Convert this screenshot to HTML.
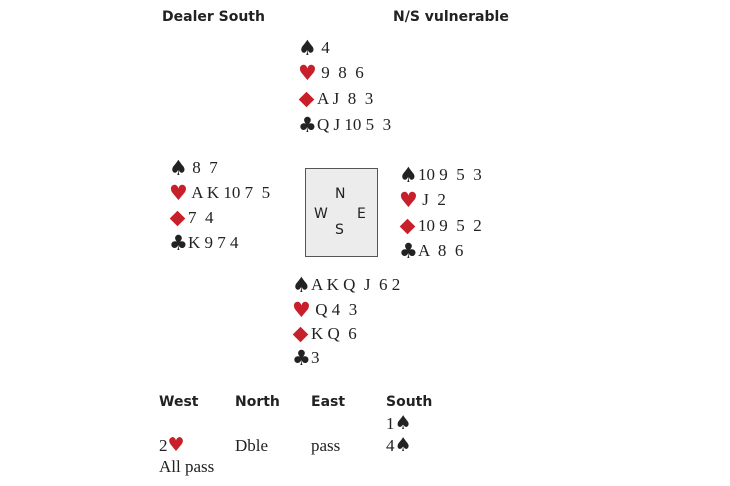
<!DOCTYPE html>
<html><head><style>
body{margin:0;width:730px;height:486px;background:#fff;position:relative;overflow:hidden;font-family:"Liberation Serif",serif;color:#222}
.a{position:absolute;white-space:pre;line-height:20px;font-size:17px}
.h{position:absolute;font-family:"DejaVu Sans","Liberation Sans",sans-serif;font-weight:bold;font-size:14px;line-height:18px;color:#222}
.r{color:#c8202a}
.s{font-family:"DejaVu Sans",sans-serif;font-size:21px;display:inline-block;width:19px;vertical-align:top;line-height:20px}
.d{display:inline-block;width:19px;height:20px;vertical-align:top;position:relative}
.d::before{content:"";position:absolute;left:3px;top:5px;width:11px;height:11px;background:#c8202a;transform:rotate(45deg)}
.bs{font-family:"DejaVu Sans",sans-serif;font-size:19px;line-height:16px}
.box{position:absolute;left:305px;top:168px;width:71px;height:87px;border:1px solid #555;background:#ececec}
.c{position:absolute;font-family:"DejaVu Sans","Liberation Sans",sans-serif;font-size:14px;line-height:16px}
</style></head><body>
<div class="h" style="left:162px;top:8px">Dealer South</div>
<div class="h" style="left:393px;top:8px">N/S vulnerable</div>

<div class="a" style="left:298px;top:38px"><span class="s">♠</span> 4</div>
<div class="a" style="left:298px;top:63px"><span class="s r">♥</span> 9  8  6</div>
<div class="a" style="left:298px;top:89px"><span class="d"></span>A J  8  3</div>
<div class="a" style="left:298px;top:115px"><span class="s">♣</span>Q J 10 5  3</div>

<div class="a" style="left:169px;top:158px"><span class="s">♠</span> 8  7</div>
<div class="a" style="left:169px;top:183px"><span class="s r">♥</span> A K 10 7  5</div>
<div class="a" style="left:169px;top:208px"><span class="d"></span>7  4</div>
<div class="a" style="left:169px;top:233px"><span class="s">♣</span>K 9 7 4</div>

<div class="box"></div>
<div class="c" style="left:335px;top:186px">N</div>
<div class="c" style="left:314px;top:206px">W</div>
<div class="c" style="left:357px;top:206px">E</div>
<div class="c" style="left:335px;top:222px">S</div>

<div class="a" style="left:399px;top:165px"><span class="s">♠</span>10 9  5  3</div>
<div class="a" style="left:399px;top:190px"><span class="s r">♥</span> J  2</div>
<div class="a" style="left:399px;top:216px"><span class="d"></span>10 9  5  2</div>
<div class="a" style="left:399px;top:241px"><span class="s">♣</span>A  8  6</div>

<div class="a" style="left:292px;top:275px"><span class="s">♠</span>A K Q  J  6 2</div>
<div class="a" style="left:292px;top:300px"><span class="s r">♥</span> Q 4  3</div>
<div class="a" style="left:292px;top:324px"><span class="d"></span>K Q  6</div>
<div class="a" style="left:292px;top:348px"><span class="s">♣</span>3</div>

<div class="h" style="left:159px;top:393px">West</div>
<div class="h" style="left:235px;top:393px">North</div>
<div class="h" style="left:311px;top:393px">East</div>
<div class="h" style="left:386px;top:393px">South</div>
<div class="a" style="left:386px;top:414px">1<span class="bs">♠</span></div>
<div class="a" style="left:159px;top:436px">2<span class="bs r">♥</span></div>
<div class="a" style="left:235px;top:436px">Dble</div>
<div class="a" style="left:311px;top:436px">pass</div>
<div class="a" style="left:386px;top:436px">4<span class="bs">♠</span></div>
<div class="a" style="left:159px;top:457px">All pass</div>
</body></html>
